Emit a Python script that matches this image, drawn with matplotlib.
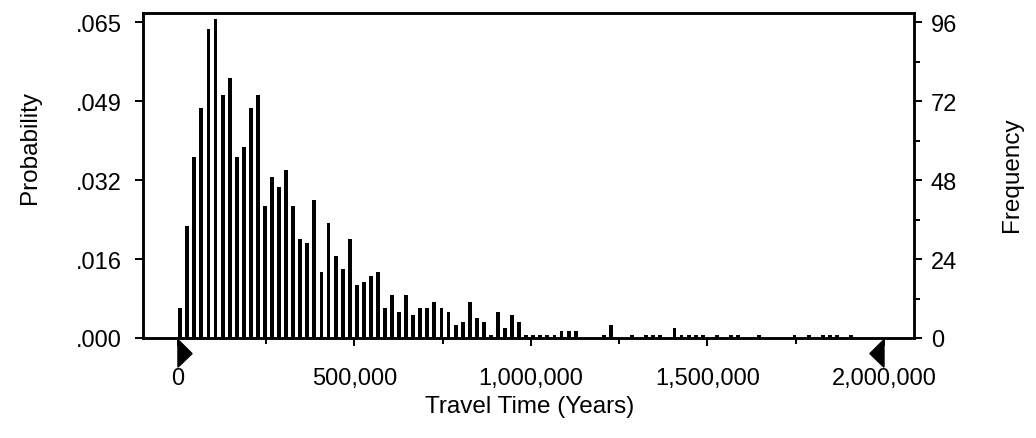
import numpy as np
import matplotlib
matplotlib.use("Agg")
import matplotlib.pyplot as plt
from matplotlib.patches import Polygon
from matplotlib.transforms import blended_transform_factory

plt.rcParams['font.family'] = ['Liberation Sans', 'DejaVu Sans']

# ---- data ----
bin_width = 20000  # years per frequency cell
frequency = [9, 34, 55, 70, 94, 97, 74, 79, 55, 58,
             70, 74, 40, 49, 46, 51, 40, 30, 29, 42,
             20, 35, 25, 21, 30, 16, 17, 19, 20, 9,
             13, 8, 13, 7, 9, 9, 11, 9, 8, 4,
             5, 11, 6, 5, 1, 8, 3, 7, 5, 1,
             1, 1, 1, 1, 2, 2, 2, 0, 0, 0,
             1, 4, 0, 0, 1, 0, 1, 1, 1, 0,
             3, 1, 1, 1, 1, 0, 1, 0, 1, 1,
             0, 0, 1, 0, 0, 0, 0, 1, 0, 1,
             0, 1, 1, 1, 0, 1]
freq_ticks = [0, 24, 48, 72, 96]
freq_minor = [12, 36, 60, 84]
prob_labels = [".000", ".016", ".032", ".049", ".065"]
freq_labels = ["0", "24", "48", "72", "96"]
x_ticks = [0, 500000, 1000000, 1500000, 2000000]
x_minor = [250000, 750000, 1250000, 1750000]
x_labels = ["0", "500,000", "1,000,000", "1,500,000", "2,000,000"]
certainty_range = [0, 2000000]

bin_left = np.arange(len(frequency)) * bin_width

# ---- figure ----
fig = plt.figure(figsize=(10.36, 4.39), dpi=100)
ax = fig.add_axes([143/1036, 1 - 339/439, 771/1036, 325/439])

ax.bar(bin_left + 1000, frequency, width=11000, align='edge',
       color='black', edgecolor='none')

ax.set_xlim(-99000, 2085000)
ax.set_ylim(0, 98.8)

for s in ax.spines.values():
    s.set_linewidth(1.8)
    s.set_color('black')

fs_tick = 17
ax.set_xticks(x_ticks)
ax.set_xticklabels(x_labels, fontsize=fs_tick)
ax.set_xticks(x_minor, minor=True)
ax.tick_params(axis='x', which='major', direction='out', length=6, width=1.4, pad=15)
ax.tick_params(axis='x', which='minor', direction='out', length=4, width=1.4)

ax.set_yticks(freq_ticks)
ax.set_yticklabels(prob_labels, fontsize=fs_tick)
ax.tick_params(axis='y', which='major', direction='out', length=6, width=1.4, pad=9)

ax2 = ax.twinx()
ax2.set_ylim(ax.get_ylim())
ax2.set_yticks(freq_ticks)
ax2.set_yticklabels(freq_labels, fontsize=fs_tick)
ax2.set_yticks(freq_minor, minor=True)
ax2.tick_params(axis='y', which='major', direction='out', length=6, width=1.4, pad=6)
ax2.tick_params(axis='y', which='minor', direction='out', length=4, width=1.4)
for s in ax2.spines.values():
    s.set_linewidth(1.8)

# certainty range markers (triangles below the axis)
trans = blended_transform_factory(ax.transData, ax.transAxes)
lo, hi = certainty_range
tri_w = 40000
left_tri = Polygon([(lo, -0.005), (lo, -0.09), (lo + tri_w, -0.048)],
                   closed=True, color='black', transform=trans, clip_on=False)
right_tri = Polygon([(hi, -0.005), (hi, -0.09), (hi - tri_w, -0.048)],
                    closed=True, color='black', transform=trans, clip_on=False)
ax.add_patch(left_tri)
ax.add_patch(right_tri)

fs_lab = 17.5
fig.text(30/1036, 1 - 148/439, "Probability", rotation=90, fontsize=fs_lab,
         ha='center', va='center')
fig.text(1012/1036, 1 - 175/439, "Frequency", rotation=90, fontsize=fs_lab,
         ha='center', va='center')
fig.text(530/1036, 1 - 407/439, "Travel Time (Years)", fontsize=fs_lab,
         ha='center', va='center')

fig.savefig("out.png", dpi=100)
